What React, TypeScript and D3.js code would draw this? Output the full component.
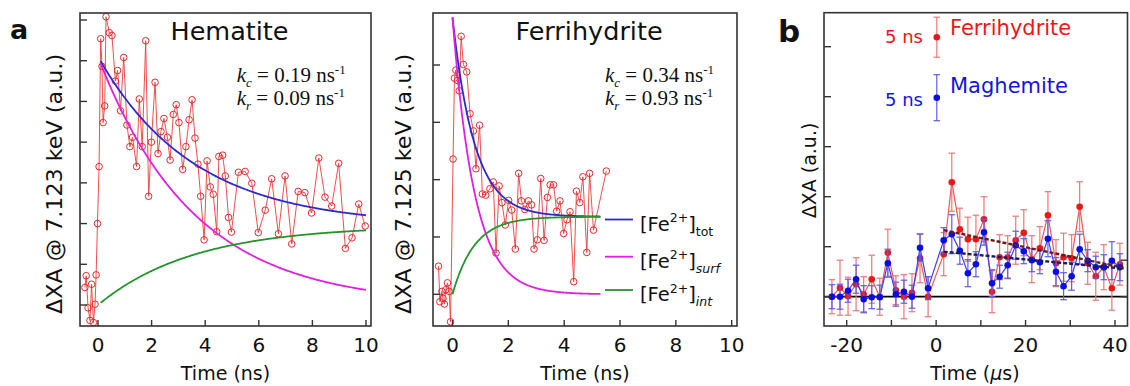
import React from "react";
import * as d3 from "d3";

// ---- panel a, Hematite: time (ns) and signal (tick units)
const hemTime = [
  -0.49, -0.44, -0.37, -0.3, -0.24, -0.17, -0.11, -0.07, -0.02, 0.04, 0.1, 0.15, 0.19, 0.25, 0.3,
  0.42, 0.52, 0.65, 0.73, 0.84, 0.96, 1.08, 1.19, 1.29, 1.44, 1.54, 1.65, 1.78, 1.89, 1.99, 2.13,
  2.24, 2.35, 2.46, 2.59, 2.69, 2.81, 2.92, 3.02, 3.16, 3.28, 3.4, 3.51, 3.62, 3.73, 3.83, 3.96,
  4.07, 4.19, 4.3, 4.43, 4.51, 4.65, 4.75, 4.87, 4.98, 5.24, 5.49, 5.74, 5.98, 6.24, 6.48, 6.73,
  6.98, 7.23, 7.47, 7.72, 7.97, 8.24, 8.47, 8.72, 8.98, 9.23, 9.48, 9.73, 9.97,
];
const hemSignal = [
  0.43, 0.72, -0.07, -0.38, 0.51, -0.43, 0.02, 0.74, 2.0, 3.4, 6.54, 5.86, 4.48, 4.89, 7.08,
  6.69, 6.62, 5.5, 5.76, 4.77, 6.08, 4.42, 3.89, 4.12, 3.4, 5.06, 3.89, 6.49, 2.67, 4.0, 5.47,
  3.72, 4.26, 4.58, 4.12, 3.56, 4.68, 4.92, 4.48, 3.33, 3.89, 4.55, 5.04, 4.1, 3.46, 2.67, 1.6,
  3.54, 2.9, 2.72, 1.8, 3.65, 3.68, 3.17, 2.15, 1.79, 3.26, 3.28, 2.99, 1.78, 2.33, 3.1, 1.75,
  3.17, 1.5, 2.79, 2.76, 2.26, 3.61, 2.65, 2.43, 3.48, 1.39, 1.65, 2.48, 1.94,
];
// fit curves: printed rates, amplitude and interior share
const hemFit = { kc: 0.19, kr: 0.09, amp: 6.1, intShare: 0.32, tStart: 0.1, tEnd: 10 };

// ---- panel a, Ferrihydrite
const ferTime = [
  -0.5, -0.45, -0.38, -0.34, -0.29, -0.24, -0.18, -0.12, -0.07, 0.02, 0.07, 0.12, 0.18, 0.24,
  0.31, 0.39, 0.51, 0.63, 0.75, 0.84, 0.97, 1.07, 1.19, 1.34, 1.46, 1.56, 1.67, 1.77, 1.89, 2.01,
  2.12, 2.25, 2.37, 2.47, 2.59, 2.72, 2.83, 2.92, 3.04, 3.16, 3.28, 3.4, 3.5, 3.62, 3.73, 3.85,
  3.98, 4.1, 4.21, 4.34, 4.44, 4.56, 4.67, 4.81, 4.91, 5.05, 5.51,
];
const ferSignal = [
  0.49, -0.13, 0.05, -0.07, -0.17, 0.08, 0.2, 0.05, -0.48, 2.36, 3.77, 3.91, 3.73, 3.55, 4.5,
  4.01, 3.88, 3.15, 2.85, 2.19, 2.95, 1.75, 1.73, 1.84, 1.96, 0.72, 1.89, 1.6, 1.21, 1.64, 1.47,
  0.79, 2.11, 1.63, 1.48, 1.63, 1.56, 0.79, 0.95, 2.02, 0.94, 1.69, 1.91, 1.91, 1.45, 1.63, 1.06,
  1.3, 1.44, 0.22, 1.8, 1.6, 2.05, 0.73, 2.11, 1.12, 2.15,
];
const ferFit = { kc: 0.34, kr: 0.93, amp: 4.83, intShare: 0.28, tStart: 0, tEnd: 5.3 };

const nsTicks = [0, 2, 4, 6, 8, 10];
const hemYTicks = [0, 1, 2, 3, 4, 5, 6, 7];
const ferYTicks = [0, 1, 2, 3, 4];
const legendNames = ["tot", "surf", "int"];

// ---- panel b: time (µs), ΔXA and error bars
const bTime = [
  -23.3, -21.5, -19.7, -17.9, -16.2, -14.4, -12.6, -10.8, -9.0, -7.2, -5.4, -3.6, -1.8, 1.7, 3.5,
  5.3, 7.1, 8.9, 10.7, 12.5, 14.2, 16.0, 17.8, 19.6, 21.4, 23.2, 25.0, 26.8, 28.5, 30.3, 32.1,
  33.9, 35.7, 37.5, 39.3, 41.1,
];
const bFerri = [
  0.0, 0.18, 0.01, 0.25, 0.05, 0.35, 0.0, 0.88, 0.13, 0.0, 0.08, 0.77, 0.0, 0.85, 2.29, 1.35,
  1.15, 1.15, 1.55, 0.1, 0.79, 0.79, 1.13, 1.28, 0.75, 0.97, 1.63, 0.67, 0.79, 0.77, 1.8, 0.67,
  0.41, 0.59, 0.17, 0.65,
];
const bFerriErr = [
  0.34, 0.55, 0.38, 0.53, 0.35, 0.48, 0.37, 0.47, 0.29, 0.44, 0.38, 0.49, 0.4, 0.43, 0.58, 0.42,
  0.44, 0.48, 0.45, 0.42, 0.45, 0.43, 0.48, 0.46, 0.47, 0.43, 0.47, 0.47, 0.48, 0.47, 0.5, 0.42,
  0.48, 0.45, 0.44, 0.42,
];
const bMagh = [
  0.0, 0.0, 0.12, 0.35, -0.05, -0.01, -0.01, 0.67, 0.05, 0.1, 0.0, 0.98, 0.17, 1.13, 1.25, 0.92,
  0.47, 0.65, 1.29, 0.27, 0.4, 0.63, 1.03, 0.91, 0.73, 0.69, 1.16, 0.5, 0.21, 0.41, 0.95, 0.72,
  0.59, 0.59, 0.72, 0.59,
];
const bMaghErr = [
  0.24, 0.25, 0.23, 0.28, 0.27, 0.23, 0.24, 0.28, 0.24, 0.23, 0.23, 0.27, 0.23, 0.25, 0.39, 0.27,
  0.27, 0.25, 0.26, 0.27, 0.23, 0.26, 0.28, 0.25, 0.23, 0.23, 0.36, 0.28, 0.27, 0.28, 0.3, 0.22,
  0.22, 0.25, 0.38, 0.27,
];
// 5 ns points, plotted at t = 0
const ferri5ns = { t: 0.15, v: 5.19, err: 0.4 };
const magh5ns = { t: 0.15, v: 3.98, err: 0.46 };
// dashed fits [time, value] at both ends
const ferriFitLine: [number, number][] = [[1.7, 1.33], [41.9, 0.58]];
const maghFitLine: [number, number][] = [[1.7, 0.9], [41.9, 0.56]];

const usTicks = [-20, -10, 0, 10, 20, 30, 40];
const usLabels = [-20, 0, 20, 40];
const bYTicks = [0, 1, 2, 3, 4, 5];
const bRightTicks = [0, 0.73];

const SANS = "'DejaVu Sans', Verdana, sans-serif";
const SERIF = "'Liberation Serif', 'Times New Roman', serif";
const FRAME = "#333";

const BLUE = "#2a2ad2";
const MAGENTA = "#e21ee0";
const GREEN = "#23952b";
const RED = "#e8282c";

type Lb = {
  x: number; y: number; size: number; anchor?: string; rot?: number; sx?: number;
  weight?: string; fill?: string; family?: string; children: React.ReactNode;
};
function Label({ x, y, size, anchor = "middle", rot = 0, sx = 1, weight, fill = "#111", family = SANS, children }: Lb) {
  return (
    <text
      transform={`translate(${x},${y}) rotate(${rot}) scale(${sx},1)`}
      fontSize={size}
      textAnchor={anchor}
      fontFamily={family}
      fontWeight={weight}
      fill={fill}
    >
      {children}
    </text>
  );
}

function Rate({ x, y, sub, value }: { x: number; y: number; sub: string; value: number }) {
  return (
    <text x={x} y={y} fontFamily={SERIF} fontSize={21} fill="#111">
      <tspan fontStyle="italic">k</tspan>
      <tspan fontStyle="italic" fontSize={13} dy={5}>{sub}</tspan>
      <tspan dy={-5}>{` = ${value.toFixed(2)} ns`}</tspan>
      <tspan fontSize={13} dy={-8}>-1</tspan>
    </text>
  );
}

type Box = { left: number; right: number; top: number; bottom: number };

function DecayPanel(props: {
  box: Box; x: d3.ScaleLinear<number, number>; y: d3.ScaleLinear<number, number>;
  yTicks: number[]; time: number[]; signal: number[];
  fit: { kc: number; kr: number; amp: number; intShare: number; tStart: number; tEnd: number };
  title: string; yLabel: string; yLabelX: number; rateX: number; legend?: boolean;
}) {
  const { box, x, y, yTicks, time, signal, fit } = props;
  const pts: [number, number][] = time.map((t, i) => [t, signal[i]]);
  const line = d3.line<[number, number]>().x((d) => x(d[0])).y((d) => y(d[1]));
  const rate = fit.kc + fit.kr;
  const ts = d3.range(201).map((i) => fit.tStart + ((fit.tEnd - fit.tStart) * i) / 200);
  const surf = ts.map((t) => [t, fit.amp * Math.exp(-rate * t)] as [number, number]);
  const intr = ts.map((t) => [t, fit.amp * fit.intShare * (1 - Math.exp(-rate * t))] as [number, number]);
  const tot = ts.map((t, i) => [t, surf[i][1] + intr[i][1]] as [number, number]);
  const curve = d3.line<[number, number]>().x((d) => x(d[0])).y((d) => y(d[1])).curve(d3.curveMonotoneX);
  const cx = (box.left + box.right) / 2;
  const colors = [BLUE, MAGENTA, GREEN];
  const legY = [219.5, 256.7, 290];

  return (
    <g>
      <path d={line(pts) ?? ""} fill="none" stroke="#ee3a3a" strokeWidth={0.9} />
      {pts.map((d, i) => (
        <circle key={i} cx={x(d[0])} cy={y(d[1])} r={3.3} fill="none" stroke={RED} strokeWidth={1} />
      ))}
      <path d={curve(tot) ?? ""} fill="none" stroke={BLUE} strokeWidth={1.8} />
      <path d={curve(surf) ?? ""} fill="none" stroke={MAGENTA} strokeWidth={1.8} />
      <path d={curve(intr) ?? ""} fill="none" stroke={GREEN} strokeWidth={1.8} />

      <rect x={box.left} y={box.top} width={box.right - box.left} height={box.bottom - box.top}
        fill="none" stroke={FRAME} strokeWidth={1.6} />
      {yTicks.map((v) => (
        <line key={v} x1={box.left} x2={box.left + 7} y1={y(v)} y2={y(v)} stroke={FRAME} strokeWidth={1.4} />
      ))}
      {nsTicks.map((v) => (
        <g key={v}>
          <line x1={x(v)} x2={x(v)} y1={box.bottom} y2={box.bottom - 6} stroke={FRAME} strokeWidth={1.4} />
          <Label x={x(v)} y={351.7} size={20}>{v}</Label>
        </g>
      ))}
      <Label x={cx} y={380} size={19}>Time (ns)</Label>
      <Label x={props.yLabelX} y={184} size={21} rot={-90} sx={1.06}>{props.yLabel}</Label>
      <Label x={cx + 4} y={40} size={25.5}>{props.title}</Label>
      <Rate x={props.rateX} y={81.5} sub="c" value={fit.kc} />
      <Rate x={props.rateX} y={104.5} sub="r" value={fit.kr} />

      {props.legend &&
        legendNames.map((n, i) => (
          <g key={n}>
            <line x1={605} x2={633} y1={legY[i]} y2={legY[i]} stroke={colors[i]} strokeWidth={1.8} />
            <text x={640} y={legY[i] + 11} fontFamily={SANS} fontSize={19.5} fill="#111">
              [Fe
              <tspan fontSize={12.5} dy={-8.5}>2+</tspan>
              <tspan dy={8.5}>]</tspan>
              <tspan fontSize={12.5} dy={5} fontStyle={n === "tot" ? "normal" : "italic"}>{n}</tspan>
            </text>
          </g>
        ))}
    </g>
  );
}

function ErrSeries({ x, y, time, vals, errs, line, bar, dot }: {
  x: d3.ScaleLinear<number, number>; y: d3.ScaleLinear<number, number>;
  time: number[]; vals: number[]; errs: number[]; line: string; bar: string; dot: string;
}) {
  const pts: [number, number][] = time.map((t, i) => [t, vals[i]]);
  const path = d3.line<[number, number]>().x((d) => x(d[0])).y((d) => y(d[1]));
  return (
    <g>
      <path d={path(pts) ?? ""} fill="none" stroke={line} strokeWidth={1.2} />
      {pts.map((d, i) => {
        const px = x(d[0]);
        const hi = y(d[1] + errs[i]);
        const lo = y(d[1] - errs[i]);
        return (
          <g key={i} stroke={bar} strokeWidth={1.2}>
            <line x1={px} x2={px} y1={hi} y2={lo} />
            <line x1={px - 3.3} x2={px + 3.3} y1={hi} y2={hi} />
            <line x1={px - 3.3} x2={px + 3.3} y1={lo} y2={lo} />
          </g>
        );
      })}
      {pts.map((d, i) => (
        <circle key={i} cx={x(d[0])} cy={y(d[1])} r={3.3} fill={dot} />
      ))}
    </g>
  );
}

export default function App() {
  const hemBox = { left: 80, right: 371, top: 13, bottom: 326 };
  const hemX = d3.scaleLinear().domain([0, 10]).range([98, 366]);
  const hemY = d3.scaleLinear().domain([0, 7]).range([305, 20]);

  const ferBox = { left: 433, right: 737, top: 13, bottom: 326 };
  const ferX = d3.scaleLinear().domain([0, 10]).range([452.5, 731.7]);
  const ferY = d3.scaleLinear().domain([0, 4]).range([294.3, 65]);

  const bBox = { left: 824, right: 1127.5, top: 12.7, bottom: 326 };
  const bX = d3.scaleLinear().domain([-20, 40]).range([846.7, 1115]);
  const bY = d3.scaleLinear().domain([0, 5]).range([296.7, 46.7]);
  const fitPath = d3.line<[number, number]>().x((d) => bX(d[0])).y((d) => bY(d[1]));

  const legendPt = (p: { t: number; v: number; err: number }, bar: string, dot: string) => {
    const px = bX(p.t);
    return (
      <g>
        <g stroke={bar} strokeWidth={1.2}>
          <line x1={px} x2={px} y1={bY(p.v + p.err)} y2={bY(p.v - p.err)} />
          <line x1={px - 3.3} x2={px + 3.3} y1={bY(p.v + p.err)} y2={bY(p.v + p.err)} />
          <line x1={px - 3.3} x2={px + 3.3} y1={bY(p.v - p.err)} y2={bY(p.v - p.err)} />
        </g>
        <circle cx={px} cy={bY(p.v)} r={3.3} fill={dot} />
      </g>
    );
  };

  return (
    <svg width={1130} height={386} style={{ position: "absolute", left: 0, top: 0, background: "#fff" }}>
      <rect width={1130} height={386} fill="#fff" />
      <Label x={10} y={38.5} size={27} anchor="start" weight="bold">a</Label>
      <DecayPanel box={hemBox} x={hemX} y={hemY} yTicks={hemYTicks} time={hemTime} signal={hemSignal}
        fit={hemFit} title="Hematite" yLabel="ΔXA @ 7.123 keV (a.u.)" yLabelX={61.5} rateX={236.7} />
      <DecayPanel box={ferBox} x={ferX} y={ferY} yTicks={ferYTicks} time={ferTime} signal={ferSignal}
        fit={ferFit} title="Ferrihydrite" yLabel="ΔXA @ 7.125 keV (a.u.)" yLabelX={410.5} rateX={605} legend />

      {/* panel b */}
      <Label x={778} y={41.5} size={31} anchor="start" weight="bold">b</Label>
      <line x1={bBox.left} x2={bBox.right} y1={bY(0)} y2={bY(0)} stroke="#000" strokeWidth={1.8} />
      <ErrSeries x={bX} y={bY} time={bTime} vals={bFerri} errs={bFerriErr} line="#f05656" bar="#f07676" dot="#ee1515" />
      <ErrSeries x={bX} y={bY} time={bTime} vals={bMagh} errs={bMaghErr} line="#3d3df0" bar="#5c5cee" dot="#0c0ce6" />
      <path d={fitPath(ferriFitLine) ?? ""} stroke="#6a1c1c" strokeWidth={2.4} strokeDasharray="4 2" fill="none" />
      <path d={fitPath(maghFitLine) ?? ""} stroke="#1c1c64" strokeWidth={2.4} strokeDasharray="4 2" fill="none" />
      {legendPt(ferri5ns, "#f07676", "#ee1515")}
      {legendPt(magh5ns, "#5c5cee", "#0c0ce6")}
      <Label x={923} y={43.3} size={18} anchor="end" fill="#ee1515">5 ns</Label>
      <Label x={950} y={35} size={21} anchor="start" fill="#ee1515">Ferrihydrite</Label>
      <Label x={923} y={106} size={18} anchor="end" fill="#1414e0">5 ns</Label>
      <Label x={950} y={92.7} size={21} anchor="start" fill="#1414e0">Maghemite</Label>

      <rect x={bBox.left} y={bBox.top} width={bBox.right - bBox.left} height={bBox.bottom - bBox.top}
        fill="none" stroke={FRAME} strokeWidth={1.6} />
      {bYTicks.map((v) => (
        <line key={v} x1={bBox.left} x2={bBox.left + 7} y1={bY(v)} y2={bY(v)} stroke={FRAME} strokeWidth={1.4} />
      ))}
      {bRightTicks.map((v) => (
        <line key={v} x1={bBox.right} x2={bBox.right - 7} y1={bY(v)} y2={bY(v)} stroke={FRAME} strokeWidth={1.4} />
      ))}
      {usTicks.map((v) => (
        <line key={v} x1={bX(v)} x2={bX(v)} y1={bBox.bottom} y2={bBox.bottom - 6} stroke={FRAME} strokeWidth={1.4} />
      ))}
      {usLabels.map((v) => (
        <Label key={v} x={bX(v)} y={351.7} size={20}>{v}</Label>
      ))}
      <Label x={975} y={380} size={19}>
        Time (<tspan fontStyle="italic">μ</tspan>s)
      </Label>
      <Label x={815.5} y={170.5} size={19} rot={-90}>ΔXA (a.u.)</Label>
    </svg>
  );
}
